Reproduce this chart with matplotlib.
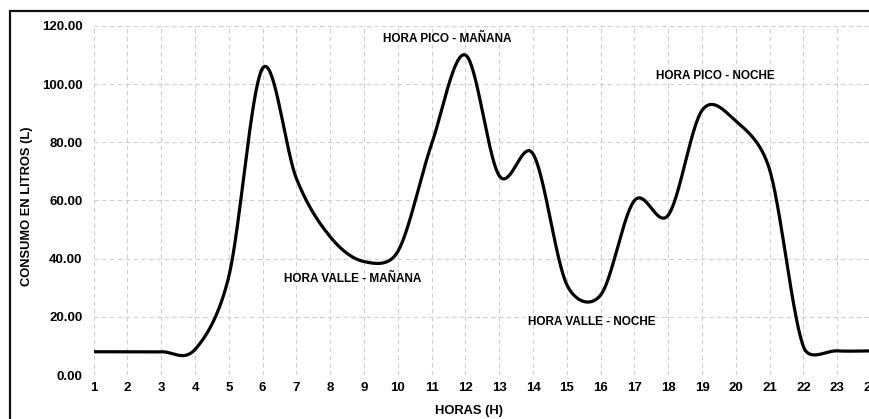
import numpy as np
import matplotlib.pyplot as plt
from matplotlib.patches import Rectangle

# data (hourly consumption, litres)
horas = np.arange(1, 25)
consumo = [8.0, 8.0, 8.0, 8.8, 34.0, 105.5, 67.5, 47.5, 39.0, 42.5, 79.5, 110.0,
           68.5, 76.0, 31.0, 27.5, 60.0, 55.0, 91.0, 87.3, 70.5, 9.7, 8.3, 8.3]
y_ticks = [0, 20, 40, 60, 80, 100, 120]

etiquetas = ["HORA PICO - MAÑANA", "HORA PICO - NOCHE",
             "HORA VALLE - MAÑANA", "HORA VALLE - NOCHE"]
etiqueta_pos = [(11.45, 115.5), (19.38, 102.8), (8.67, 32.9), (15.75, 18.2)]


# spreadsheet-style smoothed line: bezier segments, tension 1/6,
# control arms limited to half the segment length (in screen pixels)
def suavizar(x, y, sx, sy, n=40):
    P = np.column_stack([np.asarray(x, float) * sx, np.asarray(y, float) * sy])
    P = np.vstack([P[0], P, P[-1]])
    t = np.linspace(0, 1, n)[:, None]
    out = []
    for i in range(1, len(P) - 2):
        p0, p3 = P[i], P[i + 1]
        seg = np.linalg.norm(p3 - p0)
        a1 = (P[i + 1] - P[i - 1]) / 6
        a2 = (P[i + 2] - P[i]) / 6
        for a in (a1, a2):
            la = np.linalg.norm(a)
            if la > seg / 2:
                a *= (seg / 2) / la
        p1 = p0 + a1
        p2 = p3 - a2
        b = (1 - t) ** 3 * p0 + 3 * (1 - t) ** 2 * t * p1 + 3 * (1 - t) * t ** 2 * p2 + t ** 3 * p3
        out.append(b)
    out = np.vstack(out)
    return out[:, 0] / sx, out[:, 1] / sy


plt.rcParams['font.family'] = ['Liberation Sans', 'DejaVu Sans']
plt.rcParams['font.weight'] = 'bold'

fig = plt.figure(figsize=(8.69, 4.19), dpi=100)
ax = fig.add_axes([0.1078, 0.105, 0.8946, 0.833])
ax.set_xlim(1, 24)
ax.set_ylim(0, 120)

# pixels per unit on each axis
bb = ax.get_window_extent()
sx = bb.width / 23
sy = bb.height / 120

xs, ys = suavizar(horas, consumo, sx, sy)
ax.plot(xs, ys, color='black', lw=2.3, solid_capstyle='round', zorder=3)

ax.set_xticks(horas)
ax.set_yticks(y_ticks)
ax.set_yticklabels([f"{v:.2f}" for v in y_ticks])
ax.tick_params(length=0, labelsize=9.5)
ax.tick_params(axis='y', pad=8)
ax.tick_params(axis='x', pad=5)
for lab in ax.get_xticklabels() + ax.get_yticklabels():
    lab.set_fontweight('bold')
ax.grid(True, color='#cfcfcf', ls=(0, (4, 3)), lw=0.8)
for s in ax.spines.values():
    s.set_visible(False)

for txt, (hx, hy) in zip(etiquetas, etiqueta_pos):
    ax.text(hx, hy, txt, ha='center', va='center', fontsize=8.5, fontweight='bold')

fig.text(27 / 869, 1 - 206 / 419, "CONSUMO EN LITROS (L)", rotation=90,
         ha='center', va='center', fontsize=9.3, fontweight='bold')
fig.text(469 / 869, 1 - 411 / 419, "HORAS (H)", ha='center', va='center',
         fontsize=9.3, fontweight='bold')

fig.patches.append(Rectangle((9.5 / 869, -0.2), 2, 1.2 - 10.5 / 419,
                             transform=fig.transFigure, fill=False,
                             ec='#111111', lw=1.6, figure=fig))

fig.savefig("out.png", dpi=100)
